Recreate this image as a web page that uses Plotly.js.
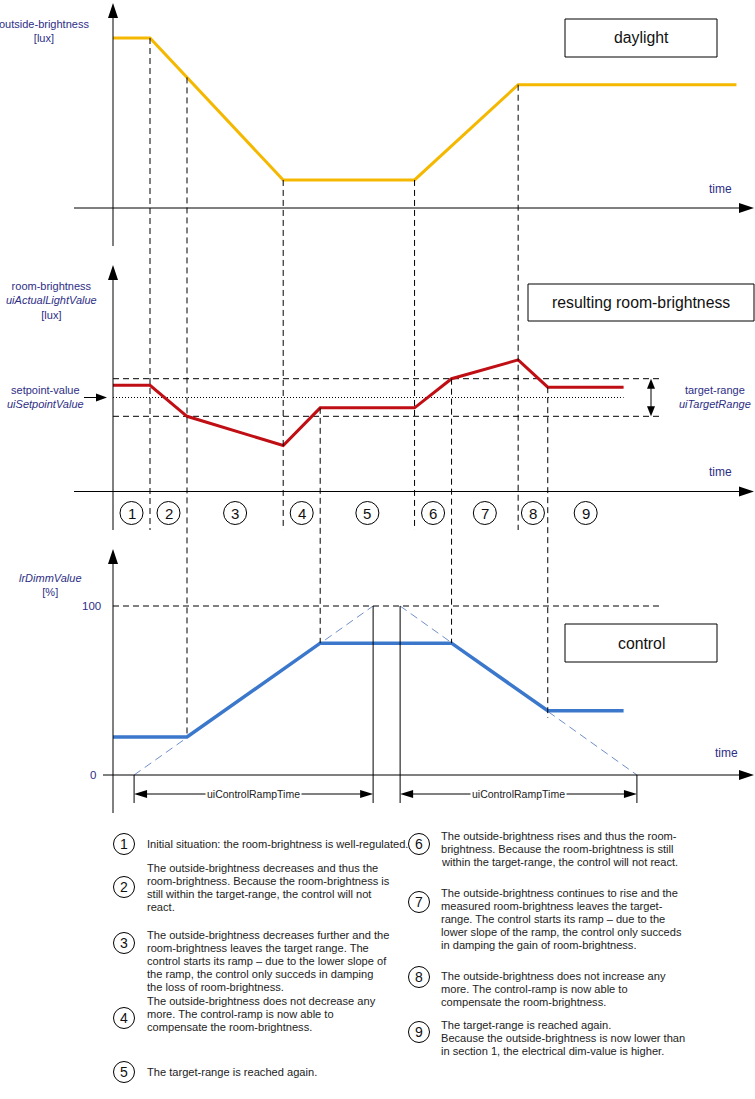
<!DOCTYPE html>
<html>
<head>
<meta charset="utf-8">
<script src="https://cdn.plot.ly/plotly-3.0.1.min.js"></script>
<style>body{margin:0;background:#fff}#chart{width:755px;height:1099px}</style>
</head>
<body>
<div id="chart"></div>
<script>
// outside brightness (daylight) over time
const dayT = [0, 10, 46, 81.5, 109.5, 168.5];
const dayLux = [1000, 1000, 165, 165, 725, 725];

// resulting room brightness
const roomT = [0, 10, 20, 46, 56, 81.5, 91.5, 109.5, 117.5, 138];
const roomLux = [565, 565, 400, 245, 445, 445, 600, 700, 555, 555];
const setpoint = 500;
const targetRange = 100;

// control output lrDimmValue [%]
const dimT = [0, 20, 56, 91.5, 117.5, 138];
const dimPct = [22.5, 22.5, 78, 78, 38, 38];
const rampUpT = [5.7, 70.3];
const rampDownT = [77.6, 141.6];
const rampPct = [0, 100];
const guideEndT = 148.5;

const sectionEdges = [0, 10, 20, 46, 56, 81.5, 91.5, 109.5, 117.5, 138];
const sectionLabels = ['1', '2', '3', '4', '5', '6', '7', '8', '9'];
const notes = [
  'Initial situation: the room-brightness is well-regulated.',
  'The outside-brightness decreases and thus the<br>room-brightness. Because the room-brightness is<br>still within the target-range, the control will not<br>react.',
  'The outside-brightness decreases further and the<br>room-brightness leaves the target range. The<br>control starts its ramp \u2013 due to the lower slope of<br>the ramp, the control only succeds in damping<br>the loss of room-brightness.',
  'The outside-brightness does not decrease any<br>more. The control-ramp is now able to<br>compensate the room-brightness.',
  'The target-range is reached again.',
  'The outside-brightness rises and thus the room-<br>brightness. Because the room-brightness is still<br>within the target-range, the control will not react.',
  'The outside-brightness continues to rise and the<br>measured room-brightness leaves the target-<br>range. The control starts its ramp \u2013 due to the<br>lower slope of the ramp, the control only succeds<br>in damping the gain of room-brightness.',
  'The outside-brightness does not increase any<br>more. The control-ramp is now able to<br>compensate the room-brightness.',
  'The target-range is reached again.<br>Because the outside-brightness is now lower than<br>in section 1, the electrical dim-value is higher.'
];

const W = 755, H = 1099;
const X0 = 113, TS = 3.7;           // pixel of t=0, pixels per time unit
const P1 = {zero: 208, s: 0.17};
const P2 = {zero: 491.5, s: 0.188};
const P3 = {zero: 775, s: 1.69};
const yr = P => [(P.zero - H) / P.s, P.zero / P.s];
const yPix = (P, v) => P.zero - v * P.s;
const tx = t => X0 + t * TS;
const px = x => x / W, py = y => 1 - y / H;
const FONT = 'Liberation Sans, Arial, sans-serif';
const NAVY = '#2e2e86';

function at(ts, vs, t) {
  for (let i = 0; i < ts.length - 1; i++) {
    if (t >= ts[i] && t <= ts[i + 1]) return vs[i] + (vs[i + 1] - vs[i]) * (t - ts[i]) / (ts[i + 1] - ts[i]);
  }
  return vs[vs.length - 1];
}

const shapes = [];
const ann = [];

function seg(x0, y0, x1, y1, line) {
  shapes.push({type: 'line', xref: 'paper', yref: 'paper', x0: px(x0), y0: py(y0), x1: px(x1), y1: py(y1),
    line: Object.assign({color: '#000', width: 1}, line || {})});
}
function head(x, y, dir, len, half) {
  let pts;
  if (dir == 'up') pts = [[x, y], [x - half, y + len], [x + half, y + len]];
  if (dir == 'down') pts = [[x, y], [x - half, y - len], [x + half, y - len]];
  if (dir == 'right') pts = [[x, y], [x - len, y - half], [x - len, y + half]];
  if (dir == 'left') pts = [[x, y], [x + len, y - half], [x + len, y + half]];
  shapes.push({type: 'path', xref: 'paper', yref: 'paper', fillcolor: '#000', line: {width: 0},
    path: 'M' + pts.map(p => px(p[0]) + ',' + py(p[1])).join(' L') + ' Z'});
}
function label(x, y, text, opt) {
  ann.push(Object.assign({xref: 'paper', yref: 'paper', x: px(x), y: py(y), text: text, showarrow: false,
    xanchor: 'center', yanchor: 'middle',
    font: {family: FONT, size: 11, color: NAVY}}, opt || {}));
}
function box(x0, y0, x1, y1, text) {
  shapes.push({type: 'rect', xref: 'paper', yref: 'paper', x0: px(x0), y0: py(y0), x1: px(x1), y1: py(y1),
    line: {color: '#000', width: 1}, fillcolor: '#fff', layer: 'below'});
  label((x0 + x1) / 2, (y0 + y1) / 2, text, {font: {family: FONT, size: 15.8, color: '#111'}});
}
function circ(cx, cy, r, txt, size) {
  shapes.push({type: 'circle', xref: 'paper', yref: 'paper', x0: px(cx - r), x1: px(cx + r), y0: py(cy + r), y1: py(cy - r),
    line: {color: '#000', width: 1}});
  label(cx, cy, txt, {font: {family: FONT, size: size, color: '#111'}});
}

// axes with arrow heads
seg(113, 246, 113, 17); head(113, 3, 'up', 15, 5);
seg(74, P1.zero, 741, P1.zero); head(754, P1.zero, 'right', 15, 5);
seg(113, 530, 113, 279); head(113, 265, 'up', 15, 5);
seg(74, P2.zero, 741, P2.zero); head(754, P2.zero, 'right', 15, 5);
seg(113, 813, 113, 563); head(113, 549, 'up', 15, 5);
seg(103, P3.zero, 741, P3.zero); head(754, P3.zero, 'right', 15, 5);

// setpoint arrow and target range double arrow
const spY = yPix(P2, setpoint);
seg(84, spY, 98, spY); head(107, spY, 'right', 11, 4);
const hiY = yPix(P2, setpoint + targetRange), loY = yPix(P2, setpoint - targetRange);
seg(651, hiY + 8, 651, loY - 8); head(651, hiY, 'up', 10, 4); head(651, loY, 'down', 10, 4);

// dashed section guides
const dash = {dash: '6px,4px'};
[10, 20, 46, 81.5, 109.5].forEach(t => {
  const top = yPix(P1, at(dayT, dayLux, t));
  let bot = 530;
  if (t == 20) bot = yPix(P3, at(dimT, dimPct, t));
  shapes.push({type: 'line', xref: 'x', yref: 'paper', x0: t, x1: t, y0: py(top), y1: py(bot), line: Object.assign({color: '#000', width: 1}, dash)});
});
[56, 91.5, 117.5].forEach(t => {
  const top = yPix(P2, at(roomT, roomLux, t));
  let bot = yPix(P3, at(dimT, dimPct, t));
  if (t == 117.5) bot += 7;
  shapes.push({type: 'line', xref: 'x', yref: 'paper', x0: t, x1: t, y0: py(top), y1: py(bot), line: Object.assign({color: '#000', width: 1}, dash)});
});

// ramp time dimensions
const dimY = 794;
seg(tx(rampUpT[0]), P3.zero, tx(rampUpT[0]), 803);
seg(tx(rampUpT[1]), yPix(P3, 100), tx(rampUpT[1]), 803);
seg(tx(rampDownT[0]), yPix(P3, 100), tx(rampDownT[0]), 803);
seg(tx(rampDownT[1]), P3.zero, tx(rampDownT[1]), 803);
[rampUpT, rampDownT].forEach(r => {
  const a = tx(r[0]), b = tx(r[1]);
  seg(a + 10, dimY, b - 10, dimY);
  head(a, dimY, 'left', 13, 4); head(b, dimY, 'right', 13, 4);
  label((a + b) / 2, dimY, 'uiControlRampTime', {bgcolor: '#fff', borderpad: 1, font: {family: FONT, size: 10.5, color: '#222'}});
});

// section circles
for (let i = 0; i < sectionLabels.length; i++) {
  circ(tx((sectionEdges[i] + sectionEdges[i + 1]) / 2), 513, 11.5, sectionLabels[i], 15);
}

// titles boxes
box(565, 19, 717, 57, 'daylight');
box(528, 284, 754, 321, 'resulting room-brightness');
box(565, 624, 717, 662, 'control');

// axis labels
label(44, 31, 'outside-brightness<br>[lux]');
label(51, 301, 'room-brightness<br><i>uiActualLightValue</i><br>[lux]');
label(45, 397, 'setpoint-value<br><i>uiSetpointValue</i>');
label(715, 397, 'target-range<br><i>uiTargetRange</i>');
label(50, 585, '<i>lrDimmValue</i><br>[%]');
label(103, yPix(P3, 100), '100', {xanchor: 'right', font: {family: FONT, size: 11.5, color: NAVY}});
label(98, P3.zero, '0', {xanchor: 'right', font: {family: FONT, size: 11.5, color: NAVY}});
label(720, 189, 'time', {font: {family: FONT, size: 12, color: NAVY}});
label(720, 472, 'time', {font: {family: FONT, size: 12, color: NAVY}});
label(726, 753, 'time', {font: {family: FONT, size: 12, color: NAVY}});

// legend notes, one annotation per line
const LH = 12.9;
const noteCol = [[124, 145], [124, 145], [124, 145], [124, 145], [124, 145], [419, 439], [419, 439], [419, 439], [419, 439]];
const noteCircY = [844, 887, 943, 1018, 1072, 844, 902, 977, 1032];
const noteTopY = [844, 868, 935, 1001, 1072, 836, 893, 976, 1025];
notes.forEach((n, i) => {
  circ(noteCol[i][0], noteCircY[i], 10.5, sectionLabels[i], 14);
  n.split('<br>').forEach((line, k) => {
    label(noteCol[i][1], noteTopY[i] + k * LH, line,
      {xanchor: 'left', align: 'left', font: {family: FONT, size: 11.1, color: '#222'}});
  });
});

const traces = [
  {x: dayT, y: dayLux, yaxis: 'y', mode: 'lines', line: {color: '#f5b800', width: 3}},
  {x: [0, guideEndT], y: [setpoint + targetRange, setpoint + targetRange], yaxis: 'y2', mode: 'lines', line: {color: '#000', width: 1, dash: '6px,4px'}},
  {x: [0, guideEndT], y: [setpoint - targetRange, setpoint - targetRange], yaxis: 'y2', mode: 'lines', line: {color: '#000', width: 1, dash: '6px,4px'}},
  {x: [0, 138], y: [setpoint, setpoint], yaxis: 'y2', mode: 'lines', line: {color: '#000', width: 1, dash: '1px,2px'}},
  {x: roomT, y: roomLux, yaxis: 'y2', mode: 'lines', line: {color: '#c00f14', width: 3}},
  {x: [0, guideEndT], y: [100, 100], yaxis: 'y3', mode: 'lines', line: {color: '#000', width: 1, dash: '6px,4px'}},
  {x: rampUpT, y: rampPct, yaxis: 'y3', mode: 'lines', line: {color: '#6f8fca', width: 1, dash: '8px,5px'}},
  {x: rampDownT, y: rampPct.slice().reverse(), yaxis: 'y3', mode: 'lines', line: {color: '#6f8fca', width: 1, dash: '8px,5px'}},
  {x: dimT, y: dimPct, yaxis: 'y3', mode: 'lines', line: {color: '#3b78cc', width: 3.5}}
];

const layout = {
  width: W, height: H, autosize: false,
  margin: {l: 0, r: 0, t: 0, b: 0},
  showlegend: false,
  paper_bgcolor: '#fff', plot_bgcolor: '#fff',
  xaxis: {range: [-X0 / TS, (W - X0) / TS], visible: false},
  yaxis: {range: yr(P1), visible: false},
  yaxis2: {range: yr(P2), overlaying: 'y', visible: false},
  yaxis3: {range: yr(P3), overlaying: 'y', visible: false},
  shapes: shapes,
  annotations: ann
};

Plotly.newPlot('chart', traces, layout, {staticPlot: true, displayModeBar: false});
</script>
</body>
</html>
